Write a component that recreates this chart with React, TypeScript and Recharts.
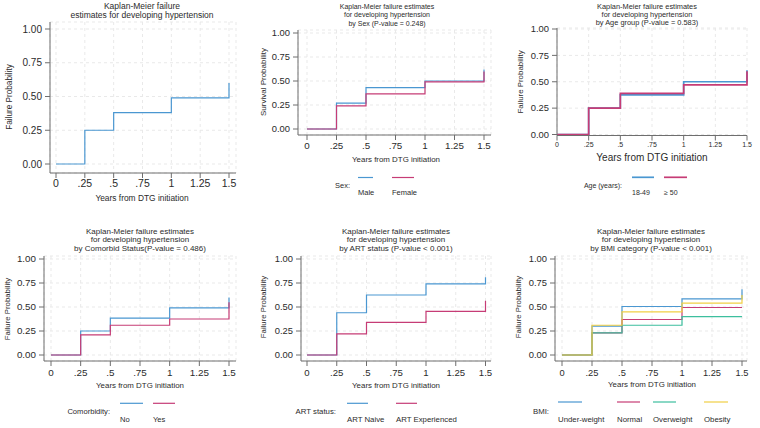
import React from 'react';
import { LineChart, Line, XAxis, YAxis, CartesianGrid } from 'recharts';

// time points where the KM estimate changes (years from DTG initiation)
const timeYears = [0, 0.25, 0.5, 1, 1.5];

const xTickValues = [0, 0.25, 0.5, 0.75, 1, 1.25, 1.5];
const xTickLabels = ['0', '.25', '.5', '.75', '1', '1.25', '1.5'];
const yTickValues = [0, 0.25, 0.5, 0.75, 1];
const yTickLabels = ['0.00', '0.25', '0.50', '0.75', '1.00'];

// failure probabilities
const overallFailure = [0, 0.25, 0.38, 0.49, 0.6];

const sexMale = [0, 0.27, 0.43, 0.5, 0.62];
const sexFemale = [0, 0.24, 0.365, 0.49, 0.6];

const age18to49 = [0, 0.25, 0.375, 0.5, 0.61];
const age50plus = [0, 0.25, 0.39, 0.47, 0.6];

const comorbNo = [0, 0.25, 0.385, 0.49, 0.6];
const comorbYes = [0, 0.21, 0.31, 0.375, 0.55];

const artNaive = [0, 0.44, 0.625, 0.74, 0.81];
const artExperienced = [0, 0.22, 0.34, 0.455, 0.565];

const bmiUnderweight = [0, 0.3, 0.505, 0.585, 0.685];
const bmiNormal = [0, 0.23, 0.37, 0.495, 0.495];
const bmiOverweight = [0, 0.23, 0.31, 0.4, 0.4];
const bmiObesity = [0, 0.31, 0.45, 0.54, 0.625];

const BLUE = '#4a97d1';
const PINK = '#c63c76';
const TEAL = '#3dbf9e';
const YELLOW = '#f1cf45';

const FONT = '"Liberation Sans", Arial, Helvetica, sans-serif';
const AXIS = '#6e6e6e';
const INK = '#2b2b2b';

type Series = { name: string; values: number[]; color: string };

type Geometry = {
  left: number;
  top: number;
  width: number;
  axisLeft: number;
  axisRight: number;
  axisTop: number;
  axisBottom: number;
  padX: [number, number];
  padY: [number, number];
  xTickFont: number;
  yTickFont: number;
  xTickMargin: number;
};

type Texts = {
  title: string[];
  titleX: number;
  titleY: number[];
  titleFont: number;
  yTitle: string;
  yTitleX: number;
  yTitleY: number;
  yTitleFont: number;
  xTitleX: number;
  xTitleY: number;
  xTitleFont: number;
};

type LegendSpec = {
  heading: string;
  headingRight: number;
  headingY: number;
  keyY: number;
  labelY: number;
  keys: [number, number][];
  font: number;
};

function KmPanel({
  g,
  series,
  strokeWidth = 1.2,
  t,
  legend,
}: {
  g: Geometry;
  series: Series[];
  strokeWidth?: number;
  t: Texts;
  legend?: LegendSpec;
}) {
  const data = timeYears.map((time, i) => {
    const row: Record<string, number> = { t: time };
    series.forEach((s, k) => {
      row['s' + k] = s.values[i];
    });
    return row;
  });
  const xAxisHeight = 24;
  const height = g.axisBottom - g.top + xAxisHeight;

  return (
    <>
      <div style={{ position: 'absolute', left: g.left, top: g.top }}>
        <LineChart
          width={g.width}
          height={height}
          data={data}
          margin={{ top: g.axisTop - g.top, right: g.left + g.width - g.axisRight, left: 0, bottom: 0 }}
        >
          <CartesianGrid stroke="#e9e9e9" strokeDasharray="3 3" />
          <XAxis
            type="number"
            dataKey="t"
            domain={[0, 1.5]}
            ticks={xTickValues}
            interval={0}
            tickFormatter={(v: number) => xTickLabels[xTickValues.indexOf(v)]}
            padding={{ left: g.padX[0], right: g.padX[1] }}
            height={xAxisHeight}
            tick={{ fontSize: g.xTickFont, fill: INK, fontFamily: FONT }}
            tickSize={5}
            tickMargin={g.xTickMargin}
            stroke={AXIS}
          />
          <YAxis
            type="number"
            domain={[0, 1]}
            ticks={yTickValues}
            interval={0}
            tickFormatter={(v: number) => yTickLabels[yTickValues.indexOf(v)]}
            padding={{ top: g.padY[0], bottom: g.padY[1] }}
            width={g.axisLeft - g.left}
            tick={{ fontSize: g.yTickFont, fill: INK, fontFamily: FONT }}
            tickSize={5}
            tickMargin={3}
            stroke={AXIS}
          />
          {series.map((s, k) => (
            <Line
              key={s.name}
              type="stepAfter"
              dataKey={'s' + k}
              stroke={s.color}
              strokeWidth={strokeWidth}
              dot={false}
              activeDot={false}
              isAnimationActive={false}
            />
          ))}
        </LineChart>
      </div>

      <svg
        width={760}
        height={428}
        style={{ position: 'absolute', left: 0, top: 0, pointerEvents: 'none' }}
        fontFamily={FONT}
        fill={INK}
      >
        {t.title.map((line, i) => (
          <text key={i} x={t.titleX} y={t.titleY[i]} fontSize={t.titleFont} textAnchor="middle" dominantBaseline="central">
            {line}
          </text>
        ))}
        <text
          x={t.yTitleX}
          y={t.yTitleY}
          fontSize={t.yTitleFont}
          textAnchor="middle"
          dominantBaseline="central"
          transform={`rotate(-90 ${t.yTitleX} ${t.yTitleY})`}
        >
          {t.yTitle}
        </text>
        <text x={t.xTitleX} y={t.xTitleY} fontSize={t.xTitleFont} textAnchor="middle" dominantBaseline="central">
          Years from DTG initiation
        </text>

        {legend && (
          <g fontSize={legend.font}>
            <text x={legend.headingRight} y={legend.headingY} textAnchor="end" dominantBaseline="central">
              {legend.heading}
            </text>
            {series.map((s, k) => (
              <g key={s.name}>
                <line
                  x1={legend.keys[k][0]}
                  x2={legend.keys[k][1]}
                  y1={legend.keyY}
                  y2={legend.keyY}
                  stroke={s.color}
                  strokeWidth={strokeWidth}
                />
                <text x={legend.keys[k][0]} y={legend.labelY} dominantBaseline="central">
                  {s.name}
                </text>
              </g>
            ))}
          </g>
        )}
      </svg>
    </>
  );
}

const titleTop = ['Kaplan-Meier failure estimates', 'for developing hypertension'];

export default function App() {
  return (
    <div style={{ position: 'absolute', left: 0, top: 0, width: 760, height: 428, background: '#fff', overflow: 'hidden' }}>
      {/* overall */}
      <KmPanel
        g={{ left: 0, top: 0, width: 250, axisLeft: 50, axisRight: 236, axisTop: 22, axisBottom: 173, padX: [6, 7], padY: [7, 9], xTickFont: 10.5, yTickFont: 10, xTickMargin: 2 }}
        series={[{ name: 'Overall', values: overallFailure, color: BLUE }]}
        t={{
          title: ['Kaplan-Meier failure', 'estimates for developing hypertension'],
          titleX: 142,
          titleY: [6, 15],
          titleFont: 8.5,
          yTitle: 'Failure Probability',
          yTitleX: 9,
          yTitleY: 97,
          yTitleFont: 8.2,
          xTitleX: 142,
          xTitleY: 198,
          xTitleFont: 8.4,
        }}
      />

      {/* sex */}
      <KmPanel
        g={{ left: 250, top: 0, width: 250, axisLeft: 298, axisRight: 491, axisTop: 30, axisBottom: 135, padX: [9, 7], padY: [3, 6], xTickFont: 9.8, yTickFont: 9.4, xTickMargin: 2 }}
        series={[
          { name: 'Male', values: sexMale, color: BLUE },
          { name: 'Female', values: sexFemale, color: PINK },
        ]}
        t={{
          title: [...titleTop, 'by Sex (P-value = 0.248)'],
          titleX: 387,
          titleY: [6, 14.6, 23.2],
          titleFont: 7,
          yTitle: 'Survival Probability',
          yTitleX: 263,
          yTitleY: 82,
          yTitleFont: 8,
          xTitleX: 396,
          xTitleY: 159,
          xTitleFont: 7.9,
        }}
        legend={{ heading: 'Sex:', headingRight: 350, headingY: 185, keyY: 177.5, labelY: 192.6, keys: [[358, 373], [392, 414]], font: 7.5 }}
      />

      {/* age */}
      <KmPanel
        g={{ left: 500, top: 0, width: 260, axisLeft: 557, axisRight: 747, axisTop: 28, axisBottom: 135.5, padX: [0, 0], padY: [1, 1], xTickFont: 7, yTickFont: 9.4, xTickMargin: 2 }}
        series={[
          { name: '18-49', values: age18to49, color: BLUE },
          { name: '≥ 50', values: age50plus, color: PINK },
        ]}
        strokeWidth={1.7}
        t={{
          title: [...titleTop, 'by Age group (P-value = 0.583)'],
          titleX: 647,
          titleY: [6, 14.2, 22.4],
          titleFont: 7.4,
          yTitle: 'Failure Probability',
          yTitleX: 520,
          yTitleY: 82,
          yTitleFont: 7.9,
          xTitleX: 652,
          xTitleY: 157,
          xTitleFont: 10,
        }}
        legend={{ heading: 'Age (years):', headingRight: 622, headingY: 185, keyY: 177.3, labelY: 192.7, keys: [[632, 654], [664, 687]], font: 7 }}
      />

      {/* comorbidity */}
      <KmPanel
        g={{ left: 0, top: 215, width: 250, axisLeft: 44, axisRight: 236, axisTop: 256, axisBottom: 361, padX: [7, 7], padY: [3, 6], xTickFont: 9.9, yTickFont: 9.8, xTickMargin: 3 }}
        series={[
          { name: 'No', values: comorbNo, color: BLUE },
          { name: 'Yes', values: comorbYes, color: PINK },
        ]}
        t={{
          title: [...titleTop, 'by Comorbid Status(P-value = 0.486)'],
          titleX: 140,
          titleY: [231, 239.5, 248],
          titleFont: 8,
          yTitle: 'Failure Probability',
          yTitleX: 7,
          yTitleY: 309,
          yTitleFont: 7.8,
          xTitleX: 140,
          xTitleY: 385,
          xTitleFont: 7.9,
        }}
        legend={{ heading: 'Comorbidity:', headingRight: 110, headingY: 411, keyY: 403.3, labelY: 419, keys: [[120, 143], [153, 175]], font: 7.6 }}
      />

      {/* ART status */}
      <KmPanel
        g={{ left: 250, top: 215, width: 250, axisLeft: 301, axisRight: 491, axisTop: 256, axisBottom: 361, padX: [6, 5.5], padY: [3, 6], xTickFont: 9.6, yTickFont: 9.4, xTickMargin: 3 }}
        series={[
          { name: 'ART Naive', values: artNaive, color: BLUE },
          { name: 'ART Experienced', values: artExperienced, color: PINK },
        ]}
        t={{
          title: [...titleTop, 'by ART status (P-value < 0.001)'],
          titleX: 396,
          titleY: [231, 239.5, 248],
          titleFont: 8,
          yTitle: 'Failure Probability',
          yTitleX: 263,
          yTitleY: 307,
          yTitleFont: 7.8,
          xTitleX: 396,
          xTitleY: 385,
          xTitleFont: 7.9,
        }}
        legend={{ heading: 'ART status:', headingRight: 336, headingY: 411, keyY: 403.3, labelY: 419, keys: [[347, 368], [396, 417]], font: 7.8 }}
      />

      {/* BMI */}
      <KmPanel
        g={{ left: 500, top: 215, width: 260, axisLeft: 555, axisRight: 747, axisTop: 256, axisBottom: 361, padX: [7, 5], padY: [3, 6], xTickFont: 9.3, yTickFont: 9.4, xTickMargin: 3 }}
        series={[
          { name: 'Under-weight', values: bmiUnderweight, color: BLUE },
          { name: 'Normal', values: bmiNormal, color: PINK },
          { name: 'Overweight', values: bmiOverweight, color: TEAL },
          { name: 'Obesity', values: bmiObesity, color: YELLOW },
        ]}
        t={{
          title: [...titleTop, 'by BMI category (P-value < 0.001)'],
          titleX: 651,
          titleY: [231, 239.5, 248],
          titleFont: 8,
          yTitle: 'Failure Probability',
          yTitleX: 518,
          yTitleY: 307,
          yTitleFont: 7.8,
          xTitleX: 652,
          xTitleY: 384,
          xTitleFont: 7.9,
        }}
        legend={{ heading: 'BMI:', headingRight: 549, headingY: 411, keyY: 402, labelY: 419, keys: [[558, 582], [617, 640], [653, 676], [704, 728]], font: 7.8 }}
      />
    </div>
  );
}
